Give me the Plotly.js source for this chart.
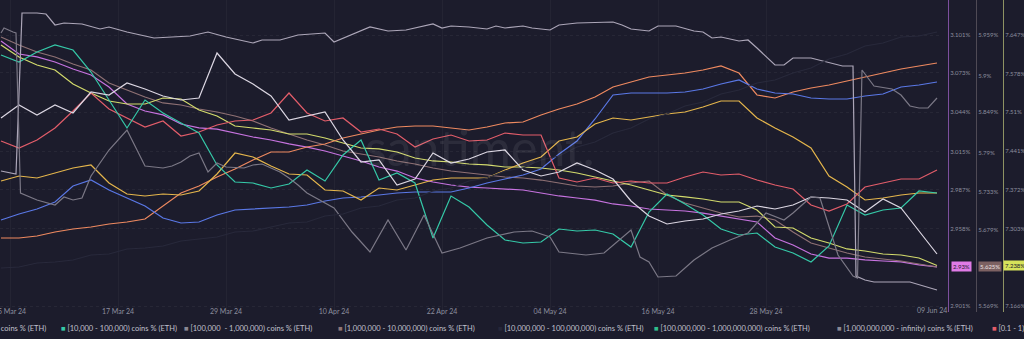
<!DOCTYPE html>
<html>
<head>
<meta charset="utf-8">
<script src="https://cdn.plot.ly/plotly-3.0.1.min.js"></script>
<style>html,body{margin:0;padding:0;background:#1c1c2c;}#chart{width:1024px;height:339px;}</style>
</head>
<body>
<div id="chart"></div>
<script>
// ---- shared 2-day date grid ----
const dates = ['2024-03-04','2024-03-06','2024-03-08','2024-03-10','2024-03-12','2024-03-14','2024-03-16','2024-03-18','2024-03-20','2024-03-22','2024-03-24','2024-03-26','2024-03-28','2024-03-30','2024-04-01','2024-04-03','2024-04-05','2024-04-07','2024-04-09','2024-04-11','2024-04-13','2024-04-15','2024-04-17','2024-04-19','2024-04-21','2024-04-23','2024-04-25','2024-04-27','2024-04-29','2024-05-01','2024-05-03','2024-05-05','2024-05-07','2024-05-09','2024-05-11','2024-05-13','2024-05-15','2024-05-17','2024-05-19','2024-05-21','2024-05-23','2024-05-25','2024-05-27','2024-05-29','2024-05-31','2024-06-02','2024-06-04','2024-06-06','2024-06-08','2024-06-10','2024-06-12','2024-06-14','2024-06-16'];

const tickDates = ['2024-03-05','2024-03-17','2024-03-29','2024-04-10','2024-04-22','2024-05-04','2024-05-16','2024-05-28'];
const tickLabels = ['05 Mar 24','17 Mar 24','29 Mar 24','10 Apr 24','22 Apr 24','04 May 24','16 May 24','28 May 24'];
const endDateLabel = '09 Jun 24';

// ---- series (values in %) ----
const magenta = [3.0966,3.0870,3.0848,3.0811,3.0759,3.0715,3.0626,3.0501,3.0449,3.0420,
 3.0353,3.0324,3.0316,3.0287,3.0257,3.0235,3.0206,3.0183,3.0154,3.0117,
 3.0080,3.0036,3.0006,2.9955,2.9925,2.9903,2.9888,2.9881,2.9874,2.9866,
 2.9844,2.9822,2.9807,2.9792,2.9763,2.9748,2.9726,2.9719,2.9711,2.9696,
 2.9674,2.9652,2.9630,2.9512,2.9460,2.9394,2.9364,2.9364,2.9350,2.9342,
 2.9335,2.9313,2.9298];

const brown = [5.9561,5.9446,5.9345,5.9273,5.9173,5.9086,5.8899,5.8799,5.8698,5.8612,
 5.8583,5.8525,5.8482,5.8424,5.8353,5.8252,5.8165,5.8079,5.8007,5.7921,
 5.7878,5.7834,5.7777,5.7734,5.7676,5.7633,5.7604,5.7575,5.7547,5.7532,
 5.7503,5.7460,5.7417,5.7403,5.7417,5.7460,5.7489,5.7288,5.7173,5.7101,
 5.7029,5.6971,5.6985,5.6928,5.6755,5.6597,5.6525,5.6453,5.6395,5.6367,
 5.6338,5.6295,5.6252];

const yellowGreen = [7.6293,7.6080,7.5938,7.5849,7.5600,7.5441,7.5299,7.5245,7.5245,7.5352,
 7.5334,7.5139,7.5032,7.4855,7.4819,7.4784,7.4713,7.4713,7.4642,7.4553,
 7.4464,7.4447,7.4393,7.4287,7.4234,7.4216,7.4180,7.4163,7.4127,7.4127,
 7.4109,7.4074,7.4021,7.3950,7.3879,7.3808,7.3719,7.3630,7.3595,7.3559,
 7.3506,7.3506,7.3364,7.3062,7.3044,7.2867,7.2778,7.2672,7.2636,7.2583,
 7.2565,7.2512,7.2380];

const orange = [14.262,14.262,14.264,14.268,14.271,14.273,14.276,14.278,14.281,14.294,
 14.307,14.314,14.323,14.331,14.340,14.348,14.348,14.353,14.356,14.362,
 14.366,14.370,14.373,14.374,14.374,14.372,14.370,14.373,14.377,14.378,
 14.385,14.391,14.396,14.403,14.413,14.418,14.423,14.425,14.427,14.430,
 14.434,14.427,14.405,14.402,14.408,14.412,14.415,14.419,14.423,14.427,
 14.431,14.434,14.437];

const blue = [11.580,11.586,11.591,11.598,11.614,11.620,11.610,11.602,11.594,11.582,
 11.577,11.578,11.585,11.590,11.591,11.592,11.593,11.595,11.599,11.602,
 11.603,11.605,11.607,11.608,11.608,11.608,11.612,11.617,11.621,11.625,
 11.631,11.646,11.659,11.681,11.705,11.707,11.707,11.707,11.708,11.711,
 11.716,11.720,11.711,11.707,11.706,11.702,11.701,11.701,11.704,11.706,
 11.713,11.715,11.718];

const gold = [9.419,9.424,9.422,9.427,9.432,9.435,9.417,9.406,9.404,9.406,
 9.405,9.409,9.426,9.447,9.443,9.434,9.426,9.425,9.410,9.409,
 9.400,9.412,9.410,9.415,9.420,9.422,9.422,9.422,9.430,9.437,
 9.443,9.459,9.463,9.476,9.482,9.480,9.483,9.486,9.488,9.493,
 9.499,9.499,9.482,9.472,9.463,9.452,9.424,9.413,9.400,9.402,
 9.405,9.407,9.407];

const red = [2.259,2.252,2.260,2.272,2.289,2.307,2.291,2.282,2.273,2.279,
 2.264,2.268,2.275,2.279,2.280,2.287,2.307,2.287,2.279,2.282,
 2.268,2.271,2.266,2.253,2.261,2.265,2.259,2.260,2.267,2.265,
 2.265,2.222,2.218,2.222,2.217,2.219,2.217,2.217,2.223,2.228,
 2.225,2.226,2.220,2.215,2.211,2.195,2.189,2.196,2.213,2.217,
 2.221,2.221,2.230];

const teal = [13.645,13.638,13.648,13.655,13.650,13.628,13.600,13.572,13.600,13.587,
 13.577,13.567,13.535,13.518,13.517,13.512,13.516,13.530,13.519,13.545,
 13.560,13.520,13.527,13.517,13.462,13.504,13.493,13.475,13.460,13.457,
 13.458,13.471,13.469,13.470,13.466,13.453,13.488,13.506,13.496,13.485,
 13.471,13.465,13.467,13.453,13.447,13.438,13.454,13.495,13.485,13.490,
 13.492,13.509,13.507];

const white = [6.182,6.195,6.185,6.195,6.187,6.208,6.205,6.217,6.211,6.204,
 6.200,6.202,6.247,6.226,6.216,6.204,6.180,6.184,6.188,6.160,
 6.138,6.140,6.115,6.121,6.147,6.137,6.141,6.148,6.150,6.130,
 6.124,6.128,6.137,6.130,6.121,6.099,6.084,6.076,6.079,6.081,
 6.086,6.089,6.094,6.091,6.095,6.103,6.102,6.100,6.088,6.101,
 6.092,6.069,6.046];

const faint = [3.832,3.833,3.837,3.838,3.840,3.845,3.846,3.851,3.852,3.854,
 3.859,3.861,3.863,3.868,3.869,3.873,3.877,3.878,3.884,3.886,
 3.892,3.894,3.900,3.902,3.909,3.912,3.919,3.922,3.929,3.932,
 3.940,3.944,3.953,3.958,3.967,3.972,3.981,3.986,3.994,3.998,
 4.006,4.010,4.017,4.020,4.027,4.032,4.041,4.046,4.054,4.057,
 4.063,4.064,4.068];

// two gray series with their own (irregular) timestamps
const grayLightDates = ['2024-03-04','2024-03-05 16:00','2024-03-06 08:00','2024-03-08','2024-03-09','2024-03-10','2024-03-11','2024-03-13','2024-03-15','2024-03-16','2024-03-18','2024-03-21','2024-03-25','2024-03-27','2024-03-29','2024-04-01','2024-04-02','2024-04-04','2024-04-06','2024-04-09','2024-04-10','2024-04-14','2024-04-16','2024-04-18','2024-04-21','2024-04-22','2024-04-23','2024-04-25','2024-04-27','2024-04-28','2024-04-29','2024-05-01','2024-05-02','2024-05-04','2024-05-05','2024-05-07','2024-05-11','2024-05-12','2024-05-13','2024-05-15','2024-05-16','2024-05-18','2024-05-20','2024-05-21','2024-05-22','2024-05-23','2024-05-25','2024-05-26','2024-05-27','2024-05-29','2024-05-30','2024-05-31','2024-06-02','2024-06-04','2024-06-05 12:00','2024-06-06 16:00','2024-06-07','2024-06-08','2024-06-09','2024-06-13','2024-06-16'];
const grayLight = [22.729,22.726,22.887,22.887,22.886,22.875,22.877,22.876,22.871,22.873,22.868,22.862,22.864,22.868,22.863,22.857,22.860,22.860,22.865,22.867,22.858,22.873,22.869,22.870,22.876,22.872,22.874,22.873,22.871,22.874,22.872,22.874,22.872,22.870,22.875,22.877,22.878,22.875,22.871,22.869,22.874,22.874,22.869,22.868,22.862,22.863,22.859,22.860,22.852,22.835,22.835,22.842,22.842,22.837,22.834,22.834,22.624,22.620,22.618,22.618,22.610];

const grayMidDates = ['2024-03-04','2024-03-04 08:00','2024-03-05 08:00','2024-03-05 16:00','2024-03-06 04:00','2024-03-08','2024-03-10','2024-03-11','2024-03-12','2024-03-13','2024-03-14','2024-03-15','2024-03-16','2024-03-18','2024-03-19','2024-03-20','2024-03-21','2024-03-22','2024-03-23','2024-03-24','2024-03-25','2024-03-26','2024-03-27','2024-03-28','2024-03-29','2024-03-31','2024-04-01','2024-04-02','2024-04-04','2024-04-05','2024-04-06','2024-04-07','2024-04-10','2024-04-12','2024-04-14','2024-04-16','2024-04-18','2024-04-20','2024-04-22','2024-04-24','2024-04-27','2024-04-30','2024-05-02','2024-05-04','2024-05-05','2024-05-08','2024-05-10','2024-05-13','2024-05-14','2024-05-15','2024-05-16','2024-05-18','2024-05-20','2024-05-22','2024-05-24','2024-05-26','2024-05-28','2024-05-30','2024-05-31','2024-06-02','2024-06-03','2024-06-05','2024-06-06 16:00','2024-06-07 04:00','2024-06-07 16:00','2024-06-09','2024-06-11','2024-06-12','2024-06-13','2024-06-14','2024-06-15','2024-06-16'];
const grayMid = [19.367,19.372,19.368,19.367,19.207,19.200,19.195,19.203,19.200,19.202,19.224,19.237,19.250,19.270,19.252,19.234,19.233,19.232,19.234,19.238,19.244,19.247,19.228,19.237,19.233,19.232,19.235,19.236,19.228,19.222,19.215,19.207,19.192,19.168,19.148,19.180,19.150,19.185,19.147,19.152,19.162,19.168,19.169,19.163,19.148,19.145,19.147,19.170,19.143,19.138,19.123,19.124,19.140,19.152,19.160,19.167,19.187,19.180,19.187,19.203,19.202,19.145,19.124,19.122,19.330,19.314,19.311,19.305,19.294,19.292,19.292,19.302];

// legend entries
const legendNames = ['[1,000 - 10,000) coins % (ETH)','[10,000 - 100,000) coins % (ETH)','[100,000  - 1,000,000) coins % (ETH)','[1,000,000 - 10,000,000) coins % (ETH)','[10,000,000 - 100,000,000) coins % (ETH)','[100,000,000 - 1,000,000,000) coins % (ETH)','[1,000,000,000 - infinity) coins % (ETH)','[0.1 - 1) coins % (ETH)'];
const legendColors = ['#c773e0','#35c9a8','#8a8894','#8f7576','#26273a','#2fbf8c','#8a8894','#e35d6a'];

// ---- traces ----
const H = 312; // plot height px
function line(x, y, color, axis, name, w) {
  return {x: x, y: y, type: 'scatter', mode: 'lines', name: name, yaxis: axis,
          line: {color: color, width: w || 1.2}, hoverinfo: 'skip'};
}
const traces = [
  line(dates, faint, '#28293b', 'y12', '[10,000,000 - 100,000,000) coins % (ETH)', 1.2),
  line(grayMidDates, grayMid, '#7b7886', 'y11', '[100,000 - 1,000,000) coins % (ETH)'),
  line(grayLightDates, grayLight, '#aca6b8', 'y10', '[1,000,000,000 - infinity) coins % (ETH)'),
  line(dates, orange, '#ef8a60', 'y4', '[1 - 10) coins % (ETH)'),
  line(dates, blue, '#5a78e6', 'y5', '[10 - 100) coins % (ETH)'),
  line(dates, gold, '#e5b64c', 'y6', '[100 - 1,000) coins % (ETH)'),
  line(dates, red, '#e35d6a', 'y7', '[0.1 - 1) coins % (ETH)'),
  line(dates, teal, '#35c9a8', 'y8', '[10,000 - 100,000) coins % (ETH)'),
  line(dates, white, '#dcd7e3', 'y9', '[0.01 - 0.1) coins % (ETH)'),
  line(dates, brown, '#8f7174', 'y2', '[1,000,000 - 10,000,000) coins % (ETH)'),
  line(dates, yellowGreen, '#d3db6c', 'y3', '[100,000,000 - 1,000,000,000) coins % (ETH)'),
  line(dates, magenta, '#c773e0', 'y', '[1,000 - 10,000) coins % (ETH)')
];

function hidden(top) { return {overlaying: 'y', visible: false, range: [top - H / 1000, top], fixedrange: true}; }
function pct(v) { return v.map(function (t) { return t + '%'; }); }

const axTick = {size: 6, color: '#8c8e9e'};
const t1 = [3.101, 3.073, 3.044, 3.015, 2.987, 2.958, 2.901];
const t2 = [5.959, 5.9, 5.849, 5.79, 5.733, 5.679, 5.569];
const t3 = [7.647, 7.578, 7.51, 7.441, 7.372, 7.303, 7.166];

const W = 1024;
const annotations = [];
// watermark
annotations.push({xref: 'paper', yref: 'paper', x: 480 / W, y: (H - 147) / H, text: 'santiment.', showarrow: false,
  font: {family: 'Lato, sans-serif', size: 50, color: 'rgba(255,255,255,0.075)'}});
// current value boxes
annotations.push({xref: 'paper', yref: 'y', x: 951 / W, y: magenta[magenta.length - 1], xanchor: 'left', yanchor: 'middle',
  text: '2.93%', showarrow: false, bgcolor: '#e07be6', borderpad: 1, font: {size: 6, color: '#241c30'}});
annotations.push({xref: 'paper', yref: 'y2', x: 978 / W, y: brown[brown.length - 1], xanchor: 'left', yanchor: 'middle',
  text: '5.625%', showarrow: false, bgcolor: '#7c6162', borderpad: 1, font: {size: 6, color: '#ece2e2'}});
annotations.push({xref: 'paper', yref: 'y3', x: 1003 / W, y: yellowGreen[yellowGreen.length - 1], xanchor: 'left', yanchor: 'middle',
  text: '7.238%', showarrow: false, bgcolor: '#d6e25a', borderpad: 1, font: {size: 6, color: '#1c1c2c'}});
// end date label
annotations.push({xref: 'paper', yref: 'paper', x: 932 / W, y: (H - 310) / H, text: endDateLabel, showarrow: false,
  xanchor: 'center', yanchor: 'middle', font: {size: 7, color: '#8c8e9e'}});
// legend
const legendX = [48, 59, 182, 336, 496, 652, 835, 990];
for (let i = 0; i < legendNames.length; i++) {
  annotations.push({xref: 'paper', yref: 'paper', x: legendX[i] / W, y: (H - 328) / H,
    xanchor: i === 0 ? 'right' : 'left', yanchor: 'middle', showarrow: false,
    text: '<span style="color:' + legendColors[i] + '">■</span> ' + legendNames[i],
    font: {size: 7.5, color: '#c0c1cc'}});
}

const layout = {
  width: 1024, height: 339,
  margin: {l: 0, r: 0, t: 0, b: 27, pad: 0},
  paper_bgcolor: '#1c1c2c', plot_bgcolor: '#1c1c2c',
  showlegend: false,
  font: {family: 'Lato, "Open Sans", sans-serif', size: 7, color: '#8c8e9e'},
  xaxis: {type: 'date', domain: [0, 940 / W], range: ['2024-03-03 21:20', '2024-06-16 08:00'],
    tickmode: 'array', tickvals: tickDates, ticktext: tickLabels,
    ticklabelposition: 'inside', ticklabeloverflow: 'allow', ticklabelstandoff: -6, ticks: '',
    tickfont: {size: 7, color: '#8c8e9e'}, showgrid: true, gridcolor: 'rgba(255,255,255,0.035)',
    zeroline: false, showline: false, fixedrange: true},
  yaxis: {anchor: 'free', position: 948 / W, side: 'right', range: [2.89657, 3.12683],
    tickmode: 'array', tickvals: t1, ticktext: pct(t1), ticks: '', tickfont: axTick,
    showline: true, linecolor: '#7d4f9e', linewidth: 1, showgrid: true, griddash: 'dot',
    gridcolor: 'rgba(255,255,255,0.05)', zeroline: false, fixedrange: true},
  yaxis2: {overlaying: 'y', anchor: 'free', position: 976 / W, side: 'right', range: [5.5604, 6.00937],
    tickmode: 'array', tickvals: t2, ticktext: pct(t2), ticks: '', tickfont: axTick,
    showline: true, linecolor: '#4f4a55', linewidth: 1, showgrid: false, zeroline: false, fixedrange: true},
  yaxis3: {overlaying: 'y', anchor: 'free', position: 1003 / W, side: 'right', range: [7.15533, 7.70913],
    tickmode: 'array', tickvals: t3, ticktext: pct(t3), ticks: '', tickfont: axTick,
    showline: true, linecolor: '#8e9263', linewidth: 1, showgrid: false, zeroline: false, fixedrange: true},
  yaxis4: hidden(14.5),
  yaxis5: hidden(11.8),
  yaxis6: hidden(9.6),
  yaxis7: hidden(2.4),
  yaxis8: hidden(13.7),
  yaxis9: hidden(6.3),
  yaxis10: hidden(22.9),
  yaxis11: hidden(19.4),
  yaxis12: hidden(4.1),
  annotations: annotations
};

Plotly.newPlot('chart', traces, layout, {staticPlot: true, displayModeBar: false});
</script>
</body>
</html>
